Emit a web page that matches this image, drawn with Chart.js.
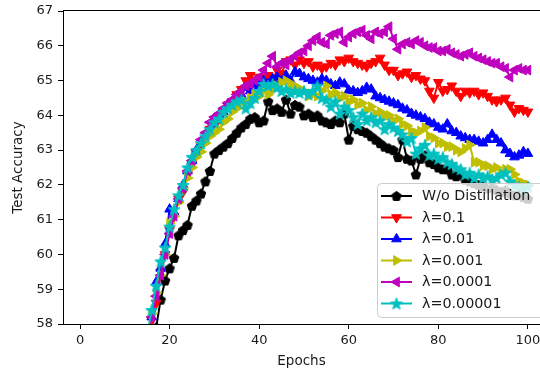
<!DOCTYPE html>
<html>
<head>
<meta charset="utf-8">
<script src="https://cdn.jsdelivr.net/npm/chart.js@4.4.0/dist/chart.umd.min.js"></script>
<style>
  html, body { margin: 0; padding: 0; background: #fff; overflow: hidden; }
</style>
</head>
<body>
<canvas id="accuracyChart" width="540" height="373"></canvas>
<script>
/************************************************************************************************
 *                                        CHART DATA
 * **********************************************************************************************/

const epochs = [
  15, 16, 17, 18, 19, 20, 21, 22, 23, 24, 25, 26, 27, 28, 29, 30, 31, 32, 33, 34,
  35, 36, 37, 38, 39, 40, 41, 42, 43, 44, 45, 46, 47, 48, 49, 50, 51, 52, 53, 54,
  55, 56, 57, 58, 59, 60, 61, 62, 63, 64, 65, 66, 67, 68, 69, 70, 71, 72, 73, 74,
  75, 76, 77, 78, 79, 80, 81, 82, 83, 84, 85, 86, 87, 88, 89, 90, 91, 92, 93, 94,
  95, 96, 97, 98, 99, 100,
];

const noDistillation = [
  56.8, 57.3, 57.9, 58.7, 59.25, 59.6, 59.9, 60.55, 60.7, 60.85,
  61.4, 61.55, 61.75, 62.1, 62.4, 62.9, 63.0, 63.1, 63.2, 63.35,
  63.5, 63.65, 63.75, 63.9, 63.95, 63.8, 63.85, 64.4, 64.15, 64.2,
  64.1, 64.45, 64.05, 64.3, 64.25, 64.0, 64.05, 63.95, 64.0, 63.85,
  63.8, 63.75, 63.85, 63.8, 64.05, 63.3, 63.7, 63.6, 63.55, 63.5,
  63.4, 63.3, 63.2, 63.1, 63.05, 63.0, 62.8, 63.3, 62.75, 62.7,
  62.3, 62.75, 62.85, 62.65, 62.6, 62.5, 62.45, 62.45, 62.3, 62.25,
  62.3, 62.15, 62.1, 62.05, 62.0, 61.95, 61.9, 61.95, 61.85, 61.8,
  61.85, 61.75, 61.7, 61.75, 61.65, 61.6,
];

const lambda1e1 = [
  57.2, 57.8, 58.6, 59.5, 60.0, 60.7, 61.1, 61.6, 61.8, 62.3,
  62.6, 62.9, 63.1, 63.3, 63.6, 63.8, 63.9, 64.1, 64.3, 64.4,
  64.6, 64.75, 65.0, 65.15, 65.0, 65.1, 64.9, 65.15, 65.0, 65.3,
  65.2, 65.55, 65.6, 65.45, 65.6, 65.5, 65.55, 65.4, 65.45, 65.35,
  65.4, 65.5, 65.45, 65.6, 65.55, 65.65, 65.55, 65.5, 65.45, 65.4,
  65.5, 65.55, 65.65, 65.45, 65.3, 65.3, 65.15, 65.2, 65.25, 65.1,
  65.15, 65.05, 65.0, 64.7, 64.5, 64.95, 64.7, 64.75, 64.85, 64.7,
  64.55, 64.7, 64.65, 64.7, 64.6, 64.65, 64.55, 64.45, 64.4, 64.45,
  64.5, 64.3, 64.1, 64.2, 64.15, 64.1,
];

const lambda1e2 = [
  57.4, 58.2, 59.2, 59.6, 60.3, 61.3, 61.2, 61.6, 62.0, 62.4,
  62.7, 63.0, 63.2, 63.4, 63.6, 63.75, 64.0, 64.1, 64.3, 64.4,
  64.5, 64.6, 64.8, 64.7, 64.9, 64.85, 65.0, 64.9, 65.05, 65.1,
  65.0, 65.15, 65.0, 65.25, 65.2, 65.1, 65.05, 65.0, 64.95, 65.05,
  65.0, 64.9, 64.85, 64.95, 64.9, 64.72, 64.7, 64.65, 64.7, 64.8,
  64.75, 64.55, 64.5, 64.45, 64.4, 64.35, 64.3, 64.2, 64.15, 64.05,
  64.0, 63.95, 63.9, 63.8, 63.75, 63.65, 63.6, 63.75, 63.55, 63.5,
  63.4, 63.35, 63.3, 63.3, 63.25, 63.2, 63.3, 63.45, 63.3, 63.2,
  63.0, 62.9, 62.8, 62.85, 62.95, 62.9,
];

const lambda1e3 = [
  57.5, 58.3, 58.9, 59.4, 60.0, 60.9, 61.1, 61.5, 61.9, 62.2,
  62.5, 62.8, 62.95, 63.2, 63.4, 63.5, 63.6, 63.8, 63.9, 64.1,
  64.2, 64.35, 64.4, 64.5, 64.6, 64.55, 64.7, 64.6, 64.75, 64.85,
  64.95, 65.0, 64.9, 64.85, 64.75, 64.7, 64.55, 64.6, 64.55, 64.7,
  64.85, 64.6, 64.65, 64.5, 64.55, 64.4, 64.45, 64.3, 64.35, 64.15,
  64.25, 64.05, 64.1, 64.0, 64.0, 63.85, 63.9, 63.75, 63.7, 63.55,
  63.5, 63.55, 63.65, 63.4, 63.35, 63.2, 63.2, 63.1, 63.1, 63.0,
  62.95, 63.05, 63.15, 62.65, 62.65, 62.55, 62.55, 62.45, 62.5, 62.35,
  62.45, 62.45, 62.3, 62.1, 62.05, 62.0,
];

const lambda1e4 = [
  57.6, 58.2, 58.8, 59.4, 60.0, 60.6, 61.1, 61.6, 61.9, 62.4,
  62.7, 63.0, 63.3, 63.5, 63.8, 63.95, 64.05, 64.2, 64.35, 64.45,
  64.6, 64.7, 64.85, 64.9, 65.0, 65.1, 65.3, 65.5, 65.7, 65.4,
  65.5, 65.45, 65.6, 65.7, 65.8, 65.85, 66.0, 66.15, 66.25, 66.1,
  66.05, 66.3, 66.35, 66.4, 66.1, 66.25, 66.35, 66.4, 66.45, 66.3,
  66.2, 66.4, 66.35, 66.4, 66.55, 66.2, 65.9, 66.05, 66.1, 66.05,
  66.15, 66.1, 66.0, 65.95, 65.95, 65.85, 65.85, 65.9, 65.8, 65.75,
  65.7, 65.75, 65.8, 65.7, 65.65, 65.6, 65.55, 65.5, 65.5, 65.4,
  65.35, 65.1, 65.3, 65.35, 65.3, 65.3,
];

const lambda1e5 = [
  57.7, 58.4, 59.1, 59.8, 60.2, 60.8, 61.3, 61.7, 62.0, 62.5,
  62.8, 63.0, 63.2, 63.4, 63.6, 63.8, 63.9, 64.1, 64.2, 64.3,
  64.4, 64.45, 64.2, 64.35, 64.5, 64.7, 64.9, 64.85, 64.9, 64.8,
  64.7, 64.75, 64.65, 64.7, 64.65, 64.7, 64.6, 64.7, 64.85, 64.5,
  64.45, 64.25, 64.4, 64.05, 64.25, 64.15, 63.95, 63.75, 64.05, 63.85,
  63.95, 63.8, 63.85, 63.6, 63.75, 63.65, 63.55, 63.45, 63.25, 63.35,
  62.9, 63.05, 63.15, 62.85, 62.9, 62.75, 62.8, 62.65, 62.6, 62.5,
  62.45, 62.3, 62.35, 62.2, 62.3, 62.2, 62.25, 62.15, 62.2, 62.3,
  62.35, 62.1, 62.0, 61.95, 61.9, 61.95,
];

const seriesLabels = ["W/o Distillation", "λ=0.1", "λ=0.01", "λ=0.001", "λ=0.0001", "λ=0.00001"];
const xTickValues = [0, 20, 40, 60, 80, 100];
const yTickValues = [58, 59, 60, 61, 62, 63, 64, 65, 66, 67];

/************************************************************************************************
 *                                        CHART SETTINGS
 * **********************************************************************************************/

const FONT = "'DejaVu Sans', sans-serif";
const TEXT = "#1a1a1a";

// one entry per series: color + marker (matplotlib style k-p, r-v, b-^, y->, m-<, c-*)
const seriesStyles = [
  { color: "#000000", marker: "pentagon" },
  { color: "#ff0000", marker: "triangle", rotation: 180 },
  { color: "#0000ff", marker: "triangle", rotation: 0 },
  { color: "#bfbf00", marker: "triangle", rotation: 90 },
  { color: "#bf00bf", marker: "triangle", rotation: -90 },
  { color: "#00bfbf", marker: "star" },
];
const seriesValues = [noDistillation, lambda1e1, lambda1e2, lambda1e3, lambda1e4, lambda1e5];

// filled pentagon / star markers drawn once on a small canvas
function makeMarker(kind, color) {
  const size = 14;
  const c = document.createElement("canvas");
  c.width = size;
  c.height = size;
  const g = c.getContext("2d");
  g.fillStyle = color;
  g.strokeStyle = color;
  g.lineWidth = 1;
  g.beginPath();
  if (kind === "pentagon") {
    for (let i = 0; i < 5; i++) {
      const a = -Math.PI / 2 + (i * 2 * Math.PI) / 5;
      g.lineTo(7 + 5 * Math.cos(a), 7.4 + 5 * Math.sin(a));
    }
  } else {
    for (let i = 0; i < 10; i++) {
      const a = -Math.PI / 2 + (i * Math.PI) / 5;
      const r = i % 2 === 0 ? 6.2 : 2.6;
      g.lineTo(7 + r * Math.cos(a), 7.6 + r * Math.sin(a));
    }
  }
  g.closePath();
  g.fill();
  g.stroke();
  return c;
}

function buildDatasets() {
  return seriesValues.map((values, i) => {
    const st = seriesStyles[i];
    const pointStyle = st.marker === "triangle" ? "triangle" : makeMarker(st.marker, st.color);
    return {
      label: seriesLabels[i],
      data: epochs.map((e, j) => ({ x: e, y: values[j] })),
      borderColor: st.color,
      backgroundColor: st.color,
      borderWidth: 2,
      pointStyle: pointStyle,
      pointRotation: st.rotation || 0,
      pointRadius: 5.6,
      pointBorderWidth: 1,
      pointBorderColor: st.color,
      pointBackgroundColor: st.color,
      tension: 0,
      fill: false,
      clip: 0,
      order: seriesValues.length - i, // later series drawn on top, like matplotlib
    };
  });
}

/************************************************************************************************
 *                                        PLUGINS
 * **********************************************************************************************/

// top spine (right spine falls outside the cropped picture)
const topSpine = {
  id: "topSpine",
  afterDraw(chart) {
    const { ctx, chartArea } = chart;
    ctx.save();
    ctx.strokeStyle = "#000";
    ctx.lineWidth = 1;
    ctx.beginPath();
    ctx.moveTo(chartArea.left, Math.round(chartArea.top) - 0.5);
    ctx.lineTo(chartArea.right, Math.round(chartArea.top) - 0.5);
    ctx.stroke();
    ctx.restore();
  },
};

// matplotlib-like legend box at lower right
const boxLegend = {
  id: "boxLegend",
  afterDraw(chart) {
    const ctx = chart.ctx;
    const x0 = 377, y0 = 183, w = 175, h = 134, rowH = 21.5;
    ctx.save();
    ctx.beginPath();
    ctx.roundRect(x0 + 0.5, y0 + 0.5, w, h, 4);
    ctx.fillStyle = "rgba(255,255,255,0.8)";
    ctx.fill();
    ctx.strokeStyle = "#cccccc";
    ctx.lineWidth = 1;
    ctx.stroke();

    chart.data.datasets.forEach((ds, i) => {
      const cy = y0 + 13 + i * rowH;
      ctx.strokeStyle = ds.borderColor;
      ctx.lineWidth = ds.borderWidth;
      ctx.beginPath();
      ctx.moveTo(381, cy);
      ctx.lineTo(412, cy);
      ctx.stroke();
      ctx.fillStyle = ds.pointBackgroundColor;
      ctx.strokeStyle = ds.pointBorderColor;
      ctx.lineWidth = 1;
      Chart.helpers.drawPoint(ctx, {
        pointStyle: ds.pointStyle,
        rotation: ds.pointRotation,
        radius: ds.pointRadius,
        borderWidth: 1,
      }, 396.5, cy);
      ctx.fillStyle = TEXT;
      ctx.font = "14.3px " + FONT;
      ctx.textBaseline = "middle";
      ctx.textAlign = "left";
      ctx.fillText(ds.label, 422, cy + 0.5);
    });
    ctx.restore();
  },
};

/************************************************************************************************
 *                                        SCALES
 * **********************************************************************************************/

const tickFont = { family: FONT, size: 13 };
const titleFont = { family: FONT, size: 13.5 };

const xScale = {
  type: "linear",
  min: -3.8,
  max: 102.7,
  afterBuildTicks: (s) => { s.ticks = xTickValues.map((v) => ({ value: v })); },
  afterFit: (s) => { s.height = 49; s.paddingLeft = 0; s.paddingRight = 0; },
  ticks: { color: TEXT, font: tickFont, padding: 4, maxRotation: 0, autoSkip: false },
  grid: { drawOnChartArea: false, drawTicks: true, tickLength: 5, color: "#000" },
  border: { display: true, color: "#000", width: 1 },
  title: { display: true, text: "Epochs", color: TEXT, font: titleFont, padding: { top: 0, bottom: 3 } },
};

const yScale = {
  type: "linear",
  min: 58,
  max: 67,
  afterBuildTicks: (s) => { s.ticks = yTickValues.map((v) => ({ value: v })); },
  afterFit: (s) => { s.width = 63; s.paddingTop = 0; s.paddingBottom = 0; },
  ticks: { color: TEXT, font: tickFont, padding: 5, autoSkip: false },
  grid: { drawOnChartArea: false, drawTicks: true, tickLength: 5, color: "#000" },
  border: { display: true, color: "#000", width: 1 },
  title: { display: true, text: "Test Accuracy", color: TEXT, font: titleFont, padding: { top: 10, bottom: 0 } },
};

/************************************************************************************************
 *                                        RENDER
 * **********************************************************************************************/

new Chart(document.getElementById("accuracyChart"), {
  type: "line",
  data: { datasets: buildDatasets() },
  options: {
    responsive: false,
    animation: false,
    events: [],
    layout: { autoPadding: false, padding: { top: 11, left: 0, right: 0, bottom: 0 } },
    scales: { x: xScale, y: yScale },
    plugins: { legend: { display: false }, tooltip: { enabled: false } },
  },
  plugins: [topSpine, boxLegend],
});
</script>
</body>
</html>
